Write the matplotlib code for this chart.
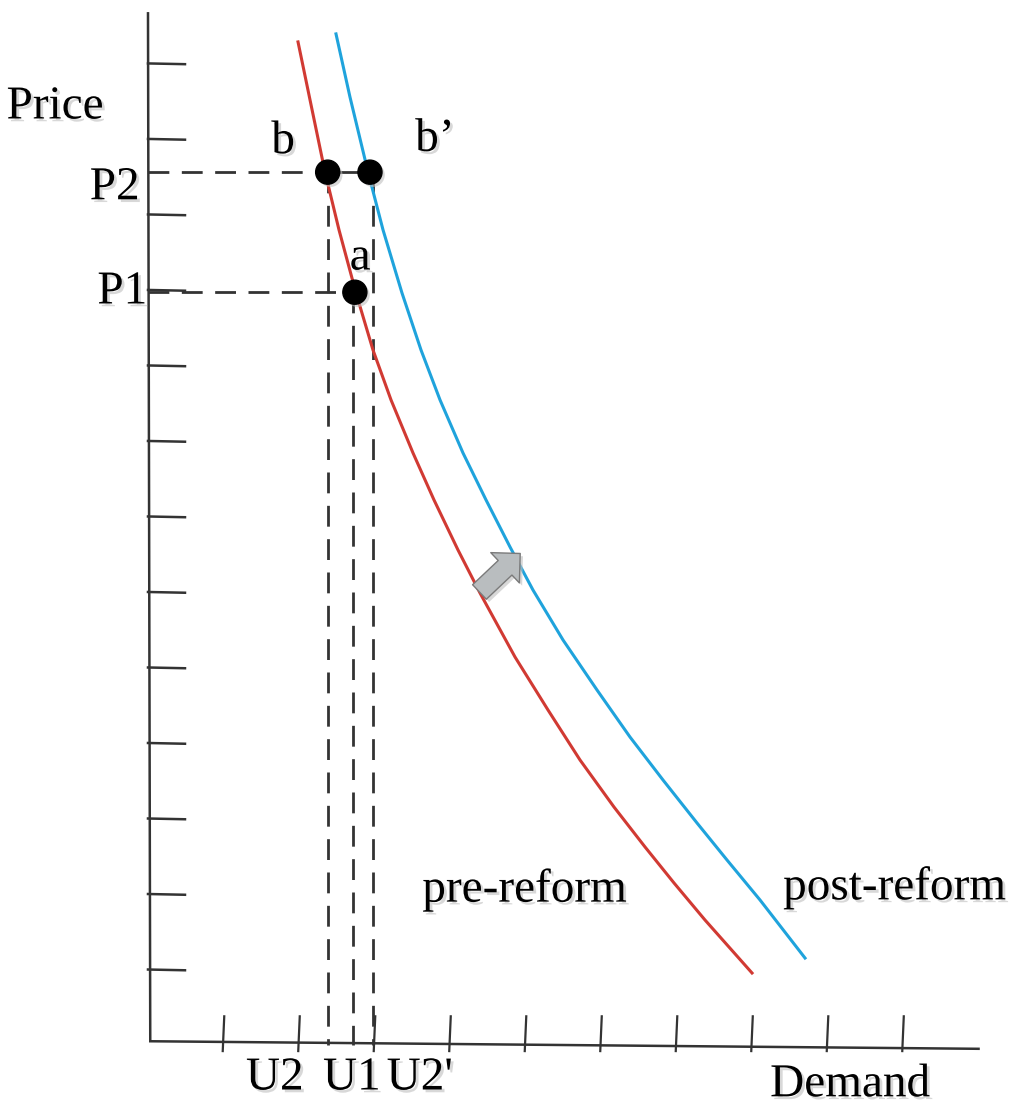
import numpy as np
import matplotlib
matplotlib.use("Agg")
import matplotlib.pyplot as plt
import matplotlib.patheffects as pe
from matplotlib.patches import FancyArrowPatch

plt.rcParams['font.family'] = ['Liberation Serif', 'DejaVu Serif']

# demand curves (demand units, price units)
pre_x = [1.987, 2.146, 2.344, 2.530, 2.755, 2.980, 3.219, 3.510, 3.788, 4.106,
         4.397, 4.861, 5.298, 5.722, 6.172, 6.583, 6.967, 7.377, 8.000]
pre_y = [13.285, 12.517, 11.563, 10.795, 9.960, 9.205, 8.543, 7.841, 7.219, 6.556,
         5.987, 5.139, 4.437, 3.775, 3.152, 2.623, 2.146, 1.656, 0.954]
post_x = [2.490, 2.675, 2.914, 3.113, 3.364, 3.616, 3.868, 4.172, 4.477, 4.795,
          5.099, 5.497, 5.947, 6.384, 6.821, 7.272, 7.669, 8.106, 8.702]
post_y = [13.391, 12.556, 11.563, 10.795, 9.960, 9.205, 8.543, 7.841, 7.219, 6.596,
          6.026, 5.364, 4.702, 4.079, 3.510, 2.940, 2.450, 1.921, 1.152]

# marked points
p1 = 9.97
p2 = 11.56
u2, u1, u2b = 2.38, 2.72, 2.98
pt_names = ['b', "b\u2019", 'a']
pt_x = [2.38, 2.94, 2.74]
pt_y = [p2, p2, p1]

x_ticks = np.arange(1, 11)
y_ticks = np.arange(1, 14)

# shift arrow (from pre to post curve)
shift_from = (4.39, 6.00)
shift_to = (4.93, 6.51)

fig = plt.figure(figsize=(10.11, 11.08), dpi=100)
ax = fig.add_axes([0, 0, 1, 1])
ax.set_xlim(-1.96, 11.43)
ax.set_ylim(-0.834, 13.84)
ax.axis('off')

shadow = [pe.SimplePatchShadow(offset=(2, -2), shadow_rgbFace='0.75', alpha=0.6), pe.Normal()]
axcol = '#333333'

# axes, a bit hand drawn
ax.plot([0, 0.03], [13.68, 0.05], color=axcol, lw=1.8, solid_capstyle='butt')
ax.plot([0.03, 11.0], [0.05, -0.05], color=axcol, lw=1.8)
for t in y_ticks:
    ax.plot([0, 0.49], [t, t - 0.01], color=axcol, lw=1.8)
for t in x_ticks:
    ax.plot([t - 0.01, t + 0.01], [-0.08, 0.38], color=axcol, lw=1.6)

# dashed guides
dash = dict(color=axcol, lw=2.0, dashes=(7.5, 4.5))
ax.plot([0, u2], [p2, p2], **dash)
ax.plot([0, u1], [p1, p1], **dash)
ax.plot([u2, u2], [p2, 0], **dash)
ax.plot([u1, u1], [p1, 0], **dash)
ax.plot([u2b, u2b], [p2, 0], **dash)
ax.plot([u2, u2b], [p2, p2], color=axcol, lw=2.0)

# demand curves
ax.plot(pre_x, pre_y, color='#d13a33', lw=2.2)
ax.plot(post_x, post_y, color='#1fa3dc', lw=2.2)

# points
ax.scatter(pt_x, pt_y, s=300, color='black', zorder=5, path_effects=shadow)

# shift arrow
arr = FancyArrowPatch(shift_from, shift_to,
                      arrowstyle='simple,head_length=0.5,head_width=1.0,tail_width=0.48',
                      mutation_scale=30, fc='#b9bdbf', ec='#7a7a7a', lw=1,
                      shrinkA=0, shrinkB=0, path_effects=shadow, zorder=6)
ax.add_patch(arr)

fs = 34
txt = dict(fontsize=fs, ha='center', va='center', path_effects=shadow)
ax.text(-1.23, 12.42, 'Price', **txt)
ax.text(-0.44, 11.35, 'P2', **txt)
ax.text(-0.34, 9.97, 'P1', **txt)
ax.text(1.79, 11.96, pt_names[0], **txt)
ax.text(3.80, 11.99, pt_names[1], **txt)
ax.text(2.81, 10.42, pt_names[2], **txt)
ax.text(1.68, -0.44, 'U2', **txt)
ax.text(2.70, -0.44, 'U1', **txt)
ax.text(3.60, -0.44, "U2'", **txt)
ax.text(9.30, -0.53, 'Demand', **txt)
ax.text(4.99, 2.05, 'pre-reform', **txt)
ax.text(9.89, 2.08, 'post-reform', **txt)

fig.savefig('out.png', dpi=100)
